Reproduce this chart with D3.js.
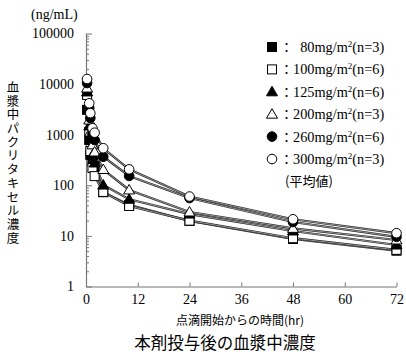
<!DOCTYPE html>
<html><head><meta charset="utf-8">
<script src="https://cdn.jsdelivr.net/npm/d3@7"></script>
<style>body{margin:0;background:#fff}svg{display:block}</style>
</head><body>
<script>
const times = [0.25, 0.75, 1, 1.5, 2, 4, 10, 24, 48, 72];
const dose80  = [3100, 790, 400, 290, 240, 73, 41, 19.7, 8.7, 5.1];
const dose100 = [6100, 1130, 475, 220, 152, 74, 39, 20, 9.0, 5.3];
const dose125 = [7000, 1490, 785, 396, 276, 101, 53, 27, 12.5, 6.6];
const dose200 = [8350, 1950, 1130, 630, 455, 205, 81, 29.7, 14.1, 8.3];
const dose260 = [10500, 3380, 2140, 1030, 785, 367, 153, 56, 18.8, 9.6];
const dose300 = [12600, 4170, 2660, 1340, 1095, 540, 207, 60, 21.3, 11.3];
const seriesNames = ["80", "100", "125", "200", "260", "300"];
const seriesN = [3, 6, 6, 3, 6, 3];
const seriesShapes = ["square", "square", "triangle", "triangle", "circle", "circle"];
const seriesFilled = [true, false, true, false, true, false];
const yTickLabels = ["1", "10", "100", "1000", "10000", "100000"];
const xTickValues = [0, 12, 24, 36, 48, 60, 72];
const yTitle = "血漿中パクリタキセル濃度";
const xTitle = "点滴開始からの時間(hr)";
const chartTitle = "本剤投与後の血漿中濃度";

const allSeries = [dose80, dose100, dose125, dose200, dose260, dose300];

const svg = d3.select("body").append("svg").attr("width", 406).attr("height", 357);
const x = d3.scaleLinear().domain([0, 72]).range([86, 396.5]);
const y = d3.scaleLog().domain([1, 100000]).range([286.5, 33.5]);
const serif = "'Liberation Serif','DejaVu Serif',serif";
const jp = "'Noto Sans CJK JP',sans-serif";
const axisCol = "#777";

// minor y ticks
const minors = [];
for (let d = 1; d < 100000; d *= 10) for (let k = 2; k <= 9; k++) minors.push(d * k);
svg.append("g").attr("transform", `translate(${x(0)},0)`)
  .call(d3.axisLeft(y).tickValues(minors).tickSizeInner(-3).tickSizeOuter(0).tickFormat(""))
  .call(g => { g.select(".domain").remove(); g.selectAll("line").attr("stroke", axisCol); });

// major y axis
svg.append("g").attr("transform", `translate(${x(0)},0)`)
  .call(d3.axisLeft(y).tickValues(yTickLabels.map(Number)).tickSizeInner(-6).tickSizeOuter(0).tickPadding(12)
    .tickFormat((d, i) => yTickLabels[i]))
  .call(g => {
    g.select(".domain").attr("stroke", axisCol).attr("stroke-width", 1.2);
    g.selectAll("line").attr("stroke", axisCol);
    g.selectAll("text").attr("font-family", serif).attr("font-size", 14).attr("fill", "#000");
  });

// x axis
svg.append("g").attr("transform", `translate(0,${y(1)})`)
  .call(d3.axisBottom(x).tickValues(xTickValues).tickSizeInner(-4).tickSizeOuter(0).tickPadding(8))
  .call(g => {
    g.select(".domain").attr("stroke", axisCol).attr("stroke-width", 1.2);
    g.selectAll("line").attr("stroke", axisCol);
    g.selectAll("text").attr("font-family", serif).attr("font-size", 14).attr("fill", "#000");
  });

// lines (double-line look)
const line = d3.line().x((d, i) => x(times[i])).y(d => y(d));
allSeries.forEach(s => {
  svg.append("path").attr("d", line(s)).attr("fill", "none").attr("stroke", "#222").attr("stroke-width", 2.2);
  svg.append("path").attr("d", line(s)).attr("fill", "none").attr("stroke", "#c8c8c8").attr("stroke-width", 0.7);
});

function drawMarker(g, shape, filled, cx, cy) {
  const fill = filled ? "#000" : "#fff";
  if (shape === "square") {
    g.append("rect").attr("x", cx - 4.5).attr("y", cy - 4.5).attr("width", 9).attr("height", 9)
      .attr("fill", fill).attr("stroke", "#000").attr("stroke-width", 1);
  } else if (shape === "circle") {
    g.append("circle").attr("cx", cx).attr("cy", cy).attr("r", 4.8)
      .attr("fill", fill).attr("stroke", "#000").attr("stroke-width", 1);
  } else {
    g.append("path").attr("d", `M${cx},${cy - 5.5}L${cx + 5.5},${cy + 4}L${cx - 5.5},${cy + 4}Z`)
      .attr("fill", fill).attr("stroke", "#000").attr("stroke-width", 1);
  }
}
const mg = svg.append("g");
allSeries.forEach((s, si) => {
  s.forEach((v, i) => drawMarker(mg, seriesShapes[si], seriesFilled[si], x(times[i]), y(v)));
});

// legend
const lg = svg.append("g");
seriesNames.forEach((n, i) => {
  const ly = 47 + i * 22.4;
  drawMarker(lg, seriesShapes[i], seriesFilled[i], 272, ly);
  const t = lg.append("text").attr("x", 280).attr("y", ly + 5).attr("font-family", serif).attr("font-size", 14.3).attr("fill", "#000");
  t.append("tspan").attr("font-family", jp).attr("font-size", 13).text("：");
  t.append("tspan").text((n.length < 3 ? "\u2002" : "") + n + "mg/m");
  t.append("tspan").attr("font-size", 9).attr("dy", -5).text("2");
  t.append("tspan").attr("dy", 5).text(`(n=${seriesN[i]})`);
});
lg.append("text").attr("x", 285).attr("y", 186).attr("font-family", jp).attr("font-size", 13).attr("fill", "#000").text("(平均値)");

// y unit
svg.append("text").attr("x", 31).attr("y", 19).attr("font-family", serif).attr("font-size", 14).attr("fill", "#000").text("(ng/mL)");

// vertical y title (single text, vertical writing mode)
svg.append("text").attr("x", 13).attr("y", 81)
  .style("writing-mode", "vertical-rl")
  .attr("font-family", jp).attr("font-size", 12.5).attr("letter-spacing", 1.2).attr("fill", "#000").text(yTitle);

// x title
svg.append("text").attr("x", 240).attr("y", 324.5).attr("text-anchor", "middle")
  .attr("font-family", jp).attr("font-size", 12).attr("fill", "#000").text(xTitle);

// chart title
svg.append("text").attr("x", 225).attr("y", 349).attr("text-anchor", "middle")
  .attr("font-family", jp).attr("font-size", 16.5).attr("fill", "#000").text(chartTitle);
</script>
</body></html>
